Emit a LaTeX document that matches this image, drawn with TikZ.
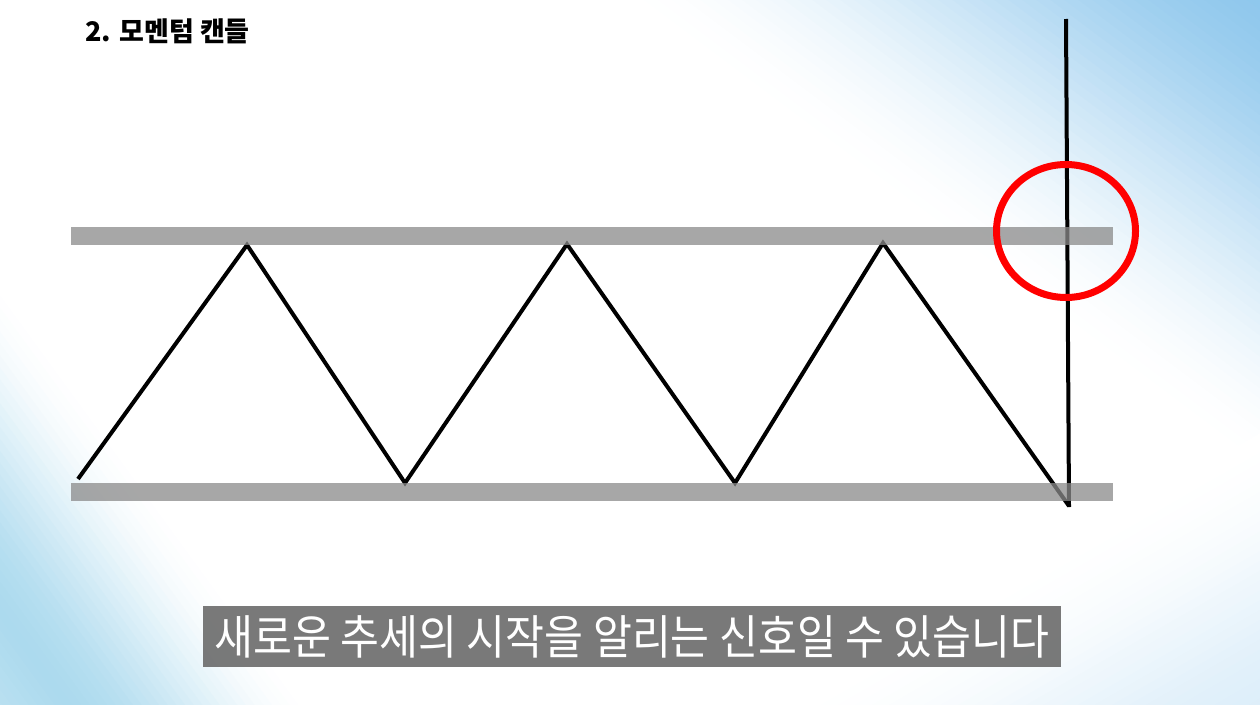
\documentclass[tikz,border=0pt]{standalone}
\usepackage{fontspec}
\newfontfamily\kr{Noto Sans CJK KR}
\definecolor{blueTR}{RGB}{140,198,236}
\definecolor{blueBL}{RGB}{172,218,238}
\definecolor{bargray}{RGB}{138,138,138}
\definecolor{boxgray}{RGB}{100,100,100}
\tikzset{
  bar/.style={fill=bargray, fill opacity=0.75},
  zig/.style={line width=4pt, black, line join=miter},
  candle/.style={line width=4pt, black},
  mark circle/.style={line width=7pt, red},
  subbox/.style={fill=boxgray, fill opacity=0.86, inner sep=0pt, minimum width=858pt, minimum height=61pt},
  subtext/.style={text=white, inner sep=0pt, xscale=0.9, font=\kr\fontsize{47}{47}\selectfont},
  titletext/.style={anchor=base west, inner sep=0pt, font=\kr\bfseries\fontsize{27}{27}\selectfont}
}
\begin{document}
\begin{tikzpicture}[x=1pt,y=-1pt]
\useasboundingbox (0,0) rectangle (1260,704);
% background
\begin{scope}
\clip (0,0) rectangle (1260,704);
\fill[white] (0,0) rectangle (1260,704);
% top-right blue gradient
\foreach \i in {0,...,50}{
  \pgfmathsetmacro\t{370+\i*8.4}
  \pgfmathsetmacro\f{\i/50}
  \pgfmathsetmacro\p{100*\f*\f*(3-2*\f)}
  \fill[blueTR!\p!white]
    ({0.6*\t-0.8*1500},{-0.8*\t-0.6*1500}) --
    ({0.6*\t+0.8*1500},{-0.8*\t+0.6*1500}) --
    ({0.6*2000+0.8*1500},{-0.8*2000+0.6*1500}) --
    ({0.6*2000-0.8*1500},{-0.8*2000-0.6*1500}) -- cycle;
}
% bottom-right faint tint
\foreach \i in {0,...,30}{
  \pgfmathsetmacro\w{1000+\i*8.5}
  \pgfmathsetmacro\f{\i/30}
  \pgfmathsetmacro\p{30*\f*\f*(3-2*\f)}
  \fill[blueTR!\p!white]
    ({0.5*\w-0.87*1500},{0.87*\w+0.5*1500}) --
    ({0.5*\w+0.87*1500},{0.87*\w-0.5*1500}) --
    ({0.5*2500+0.87*1500},{0.87*2500-0.5*1500}) --
    ({0.5*2500-0.87*1500},{0.87*2500+0.5*1500}) -- cycle;
}
% bottom-left blue gradient
\foreach \i in {0,...,40}{
  \pgfmathsetmacro\u{160+\i*7}
  \pgfmathsetmacro\p{(\u<360) ? 100*((\u-160)/200)*((\u-160)/200)*(3-2*((\u-160)/200)) : 100-25*(\u-360)/80}
  \fill[blueBL!\p!white]
    ({-0.81*\u+0.59*1500},{0.59*\u+0.81*1500}) --
    ({-0.81*\u-0.59*1500},{0.59*\u-0.81*1500}) --
    ({-0.81*1500-0.59*1500},{0.59*1500-0.81*1500}) --
    ({-0.81*1500+0.59*1500},{0.59*1500+0.81*1500}) -- cycle;
}
\end{scope}

% title
\node[titletext] (title) at (85,41) {2. 모멘텀 캔들};

% zigzag
\coordinate (z0) at (78,479);
\coordinate (z1) at (247,245);
\coordinate (z2) at (405,483);
\coordinate (z3) at (567,244);
\coordinate (z4) at (735,483);
\coordinate (z5) at (883,243);
\coordinate (z6) at (1069,506);
\draw[zig] (z0) -- (z1) -- (z2) -- (z3) -- (z4) -- (z5) -- (z6);

% vertical candle line
\coordinate (ctop) at (1066,19);
\coordinate (cbot) at (1069,507);
\draw[candle] (ctop) -- (cbot);

% support / resistance bars
\fill[bar] (71,227) rectangle (1113,245);
\fill[bar] (71,483) rectangle (1113,501);

% red circle
\draw[mark circle] (1066,231) ellipse [x radius=69.5, y radius=66.5];

% subtitle
\node[subbox] (box) at (632,636.5) {};
\node[subtext] (sub) at (box.center) {새로운 추세의 시작을 알리는 신호일 수 있습니다};
\end{tikzpicture}
\end{document}
